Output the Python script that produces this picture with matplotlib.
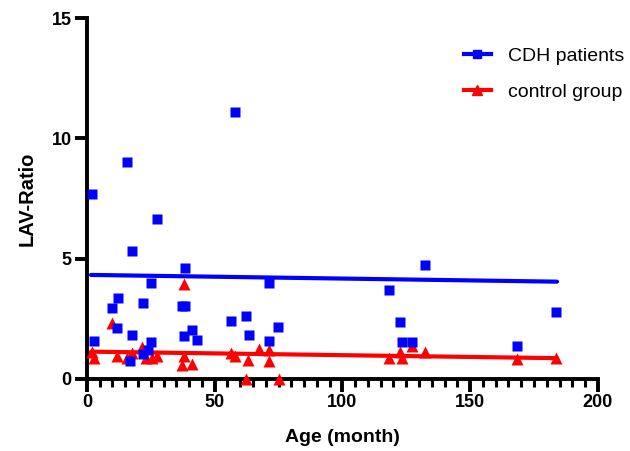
import numpy as np
import matplotlib
matplotlib.use('Agg')
import matplotlib.pyplot as plt
from matplotlib.ticker import MultipleLocator

plt.rcParams['font.family'] = ['Liberation Sans', 'DejaVu Sans']

# CDH patients (age in months, LAV-ratio)
cdh_age = [2.1, 2.7, 15.7, 57.9, 27.3, 17.7, 38.2, 24.9, 9.9, 12.0, 22.0, 37.2, 38.5,
           11.9, 17.7, 41.2, 38.1, 42.9, 24.9, 24.0, 22.0, 16.8, 56.2, 62.2, 63.3,
           71.2, 71.2, 74.8, 118.3, 132.4, 122.5, 123.5, 127.4, 168.5, 183.7]
cdh_ratio = [7.67, 1.59, 9.0, 11.09, 6.65, 5.32, 4.62, 3.97, 2.94, 3.35, 3.16, 3.03, 3.03,
             2.1, 1.83, 2.04, 1.8, 1.62, 1.52, 1.2, 1.04, 0.76, 2.41, 2.62, 1.84,
             3.97, 1.59, 2.14, 3.70, 4.72, 2.35, 1.52, 1.52, 1.37, 2.78]

# control group
ctrl_age = [2.1, 2.7, 9.7, 11.9, 15.5, 17.5, 21.7, 23.3, 25.3, 27.3, 38.1, 38.1, 37.2,
            41.1, 56.2, 58.0, 63.1, 67.3, 71.2, 71.2, 62.4, 75.2, 118.3, 122.5, 123.5,
            127.4, 132.4, 168.5, 183.7]
ctrl_ratio = [1.1, 0.88, 2.34, 0.93, 0.88, 1.06, 1.34, 0.86, 0.86, 0.97, 3.95, 0.97, 0.58,
              0.62, 1.07, 0.97, 0.79, 1.23, 1.18, 0.76, 0.0, 0.0, 0.88, 1.13, 0.88,
              1.38, 1.13, 0.83, 0.88]

# regression lines (end points)
fit_age = [1.6, 184.0]
cdh_fit = [4.32, 4.04]
ctrl_fit = [1.13, 0.86]

fig = plt.figure(figsize=(6.3, 4.51), dpi=100)
ax = fig.add_axes([0.138, 0.160, 0.811, 0.800])

ax.plot(fit_age, cdh_fit, color='#0000ff', lw=3, solid_capstyle='round', zorder=2)
ax.plot(fit_age, ctrl_fit, color='#ff0000', lw=3, solid_capstyle='round', zorder=2)
ax.plot(ctrl_age, ctrl_ratio, '^', color='#ff0000', ms=8.5, mec='none', clip_on=False, zorder=3)
ax.plot(cdh_age, cdh_ratio, 's', color='#0000ff', ms=7.5, mec='none', clip_on=False, zorder=4)

# legend handles
ax.plot([], [], '-s', color='#0000ff', lw=3, ms=6, label='CDH patients')
ax.plot([], [], '-^', color='#ff0000', lw=3, ms=7, label='control group')
ax.legend(loc='upper left', bbox_to_anchor=(0.737, 0.895), bbox_transform=fig.transFigure,
          frameon=False, fontsize=14, borderpad=0, borderaxespad=0,
          handlelength=1.35, labelspacing=0.95, handletextpad=0.9)

ax.set_xlim(0, 200)
ax.set_ylim(0, 15)
ax.xaxis.set_major_locator(MultipleLocator(50))
ax.xaxis.set_minor_locator(MultipleLocator(5))
ax.yaxis.set_major_locator(MultipleLocator(5))

for s in ['top', 'right']:
    ax.spines[s].set_visible(False)
for s in ['left', 'bottom']:
    ax.spines[s].set_linewidth(2.8)
ax.tick_params(which='major', length=9, width=2.8, labelsize=13, pad=2)
ax.tick_params(which='minor', length=5.5, width=2.2)
for lbl in ax.get_xticklabels() + ax.get_yticklabels():
    lbl.set_fontweight('bold')

ax.set_xlabel('Age (month)', fontsize=14, fontweight='bold', labelpad=13)
ax.set_ylabel('LAV-Ratio', fontsize=14.5, fontweight='bold', labelpad=11)

fig.savefig('out.png', dpi=100)
